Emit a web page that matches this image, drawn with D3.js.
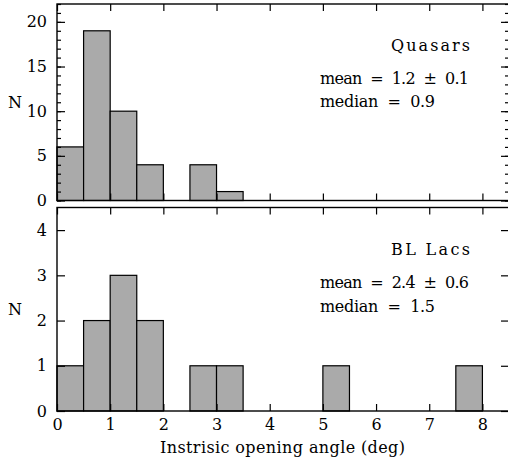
<!DOCTYPE html>
<meta charset="utf-8">
<head>
<style>
  body { margin: 0; background: #fff; }
  text { font-family: "DejaVu Serif", serif; font-size: 16px; fill: #000; white-space: pre; }
  .axis path { display: none; }
  .axis line { stroke: #000; stroke-width: 1.2px; }
  .bar { fill: #aaaaaa; stroke: #000; stroke-width: 1.2px; }
  .frame { fill: none; stroke: #000; stroke-width: 1.4px; }
</style>
</head>
<body>
<div id="content"></div>
<script src="https://d3js.org/d3.v7.min.js"></script>
<script>

// bin edges (deg), 0.5 deg wide
var binStarts = [0, 0.5, 1, 1.5, 2, 2.5, 3, 3.5, 4, 4.5, 5, 5.5, 6, 6.5, 7, 7.5, 8];
var quasarCounts = [6, 19, 10, 4, 0, 4, 1, 0, 0, 0, 0, 0, 0, 0, 0, 0, 0];
var bllacCounts  = [1, 2, 3, 2, 0, 1, 1, 0, 0, 0, 1, 0, 0, 0, 0, 1, 0];
var binWidth = 0.5;

var xTicks = [0, 1, 2, 3, 4, 5, 6, 7, 8];
var quasarMajor = [0, 5, 10, 15, 20];
var quasarMinor = d3.range(0, 23, 1);
var bllacMajor = [0, 1, 2, 3, 4];

var quasarText = ["Quasars", "mean  =  1.2  \u00b1  0.1", "median  =  0.9"];
var bllacText = ["BL Lacs", "mean  =  2.4  \u00b1  0.6", "median  =  1.5"];

var width = 508, height = 463;
var left = 57, right = 509;

var svg = d3.select("#content").append("svg")
    .attr("width", width)
    .attr("height", height);

var x = d3.scaleLinear().domain([0, 8.5]).range([left, right]);

function panel(counts, yMax, top, bottom, major, minor, texts, textY, showX) {
  var y = d3.scaleLinear().domain([0, yMax]).range([bottom, top]);
  var g = svg.append("g");

  g.selectAll(".bar")
    .data(binStarts.map(function(b, i) { return {x0: b, n: counts[i]}; })
      .filter(function(d) { return d.n > 0; }))
    .enter().append("rect")
      .attr("class", "bar")
      .attr("x", function(d) { return x(d.x0); })
      .attr("width", function(d) { return x(d.x0 + binWidth) - x(d.x0); })
      .attr("y", function(d) { return y(d.n); })
      .attr("height", function(d) { return y(0) - y(d.n); });

  // left axis
  g.append("g").attr("class", "axis")
    .attr("transform", "translate(" + left + ",0)")
    .call(d3.axisLeft(y).tickValues(major).tickSize(-8).tickPadding(10).tickFormat(d3.format("d")));
  if (minor) {
    g.append("g").attr("class", "axis")
      .attr("transform", "translate(" + left + ",0)")
      .call(d3.axisLeft(y).tickValues(minor).tickSize(-4).tickFormat(""));
    g.append("g").attr("class", "axis")
      .attr("transform", "translate(" + right + ",0)")
      .call(d3.axisRight(y).tickValues(minor).tickSize(-4).tickFormat(""));
  }
  // right axis
  g.append("g").attr("class", "axis")
    .attr("transform", "translate(" + right + ",0)")
    .call(d3.axisRight(y).tickValues(major).tickSize(-8).tickFormat(""));
  // top axis
  g.append("g").attr("class", "axis")
    .attr("transform", "translate(0," + top + ")")
    .call(d3.axisTop(x).tickValues(xTicks).tickSize(-7).tickFormat(""));
  // bottom axis
  g.append("g").attr("class", "axis")
    .attr("transform", "translate(0," + bottom + ")")
    .call(d3.axisBottom(x).tickValues(xTicks).tickSize(-7).tickPadding(8)
      .tickFormat(showX ? d3.format("d") : ""));

  g.selectAll(".axis text").style("font-family", "DejaVu Serif").style("font-size", "16px");

  g.append("rect").attr("class", "frame")
    .attr("x", left).attr("y", top)
    .attr("width", right - left).attr("height", bottom - top);

  g.append("text")
    .attr("x", 15).attr("y", (top + bottom) / 2)
    .attr("dy", "0.35em")
    .attr("text-anchor", "middle")
    .text("N");

  g.append("text")
    .attr("x", 470).attr("y", textY[0])
    .attr("text-anchor", "end")
    .attr("textLength", 79).attr("lengthAdjust", "spacing")
    .text(texts[0]);
  g.append("text")
    .attr("x", 320).attr("y", textY[1])
    .attr("textLength", 149).attr("lengthAdjust", "spacing")
    .text(texts[1]);
  g.append("text")
    .attr("x", 320).attr("y", textY[2])
    .attr("textLength", 115).attr("lengthAdjust", "spacing")
    .text(texts[2]);
}

panel(quasarCounts, 22, 4, 200.5, quasarMajor, quasarMinor, quasarText, [51, 84, 107], false);
panel(bllacCounts, 4.5, 207.5, 411, bllacMajor, null, bllacText, [255, 288, 312], true);

svg.append("text")
  .attr("x", 160).attr("y", 453)
  .attr("textLength", 245).attr("lengthAdjust", "spacing")
  .text("Instrisic opening angle (deg)");

</script>
</body>
</html>
